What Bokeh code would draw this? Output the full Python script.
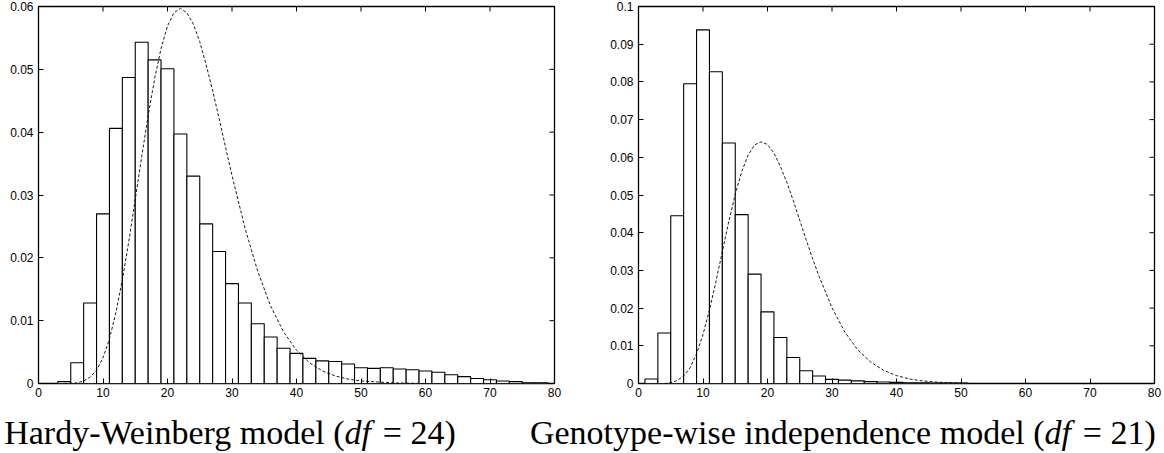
import math
from bokeh.plotting import figure
from bokeh.layouts import row, column
from bokeh.models import Range1d, LinearAxis, FixedTicker, ColumnDataSource
from bokeh.core.properties import value
from bokeh.embed import file_html
from bokeh.resources import INLINE

# ---------------- data ----------------
hw_centers = [4, 6, 8, 10, 12, 14, 16, 18, 20, 22, 24, 26, 28, 30, 32, 34, 36, 38,
              40, 42, 44, 46, 48, 50, 52, 54, 56, 58, 60, 62, 64, 66, 68, 70, 72, 74, 76, 78]
hw_freq = [0.0003, 0.0033, 0.0128, 0.0270, 0.0406, 0.0487, 0.0543, 0.0515, 0.0501, 0.0397,
           0.0330, 0.0254, 0.0210, 0.0159, 0.0128, 0.0095, 0.0074, 0.0056, 0.0048, 0.0040,
           0.0036, 0.0035, 0.0031, 0.0025, 0.0024, 0.0025, 0.0023, 0.0022, 0.0020, 0.0018,
           0.0014, 0.0011, 0.0008, 0.0006, 0.0004, 0.0003, 0.0001, 0.0001]
hw_curve_x = [4, 6, 7, 8, 9, 10, 11, 12, 13, 14, 15, 16, 17, 18, 19, 20, 21, 22, 23, 24, 25,
              26, 27, 28, 29, 30, 32, 34, 36, 38, 40, 42, 44, 46, 48, 50, 55, 60]
hw_curve_y = [0.0000, 0.0001, 0.0004, 0.0010, 0.0021, 0.0041, 0.0071, 0.0113, 0.0165, 0.0226,
              0.0293, 0.0361, 0.0426, 0.0485, 0.0533, 0.0569, 0.0590, 0.0597, 0.0590, 0.0572,
              0.0544, 0.0507, 0.0466, 0.0422, 0.0376, 0.0331, 0.0248, 0.0178, 0.0123, 0.0082,
              0.0053, 0.0033, 0.0020, 0.0012, 0.0007, 0.0004, 0.0001, 0.0000]

gi_centers = [2, 4, 6, 8, 10, 12, 14, 16, 18, 20, 22, 24, 26, 28, 30, 32, 34, 36, 38, 40,
              42, 44, 46, 48, 50]
gi_freq = [0.0012, 0.0134, 0.0445, 0.0795, 0.0938, 0.0827, 0.0638, 0.0448, 0.0290, 0.0190,
           0.0122, 0.0069, 0.0034, 0.0020, 0.0011, 0.0009, 0.0007, 0.0005, 0.0004, 0.0003,
           0.0002, 0.0002, 0.0001, 0.0001, 0.0001]
gi_curve_x = [4, 5, 6, 7, 8, 9, 10, 11, 12, 13, 14, 15, 16, 17, 18, 19, 20, 21, 22, 23, 24,
              25, 26, 27, 28, 30, 32, 34, 36, 38, 40, 42, 44, 46, 48, 50, 52]
gi_curve_y = [0.0000, 0.0002, 0.0008, 0.0020, 0.0042, 0.0079, 0.0130, 0.0195, 0.0270, 0.0350,
              0.0430, 0.0502, 0.0562, 0.0606, 0.0633, 0.0641, 0.0634, 0.0611, 0.0576, 0.0533,
              0.0485, 0.0433, 0.0381, 0.0331, 0.0284, 0.0201, 0.0136, 0.0089, 0.0057, 0.0035,
              0.0021, 0.0012, 0.0007, 0.0004, 0.0002, 0.0001, 0.0000]

x_ticks = [0, 10, 20, 30, 40, 50, 60, 70, 80]
hw_yticks = [0, 0.01, 0.02, 0.03, 0.04, 0.05, 0.06]
hw_ylabels = ["0", "0.01", "0.02", "0.03", "0.04", "0.05", "0.06"]
gi_yticks = [0, 0.01, 0.02, 0.03, 0.04, 0.05, 0.06, 0.07, 0.08, 0.09, 0.1]
gi_ylabels = ["0", "0.01", "0.02", "0.03", "0.04", "0.05", "0.06", "0.07", "0.08", "0.09", "0.1"]

cap_left = ["Hardy-Weinberg model (", "df", "= 24)"]
cap_right = ["Genotype-wise independence model (", "df", "= 21)"]

TICK_FONT = "Liberation Sans"
CAP_FONT = "Liberation Serif"


def make_panel(centers, freq, cx, cy, yticks, ylabels, ymax, left_border, right_border):
    p = figure(width=left_border + 516 + right_border, height=6 + 377 + 30,
               x_range=Range1d(0, 80),
               y_range=Range1d(0, ymax), output_backend="svg", toolbar_location=None,
               min_border_left=left_border, min_border_right=right_border,
               min_border_top=6, min_border_bottom=30, x_axis_location=None,
               y_axis_location=None)
    p.grid.visible = False
    p.outline_line_color = "black"
    p.outline_line_width = 1.3
    p.background_fill_color = "white"
    p.border_fill_color = "white"

    src = ColumnDataSource(dict(x=centers, top=freq))
    p.vbar(x="x", top="top", bottom=0, width=2, source=src, fill_color="white",
           line_color="black", line_width=1.1)
    p.line(cx, cy, line_color="black", line_width=0.9, line_dash="3 2")

    # mirrored inward ticks on the top and right sides
    p.ray(x=x_ticks, y=[ymax] * len(x_ticks), length=5, length_units="screen",
          angle=-math.pi / 2, line_color="black", line_width=1)
    p.ray(x=[80] * len(yticks), y=yticks, length=5, length_units="screen",
          angle=math.pi, line_color="black", line_width=1)

    xa = LinearAxis(ticker=FixedTicker(ticks=x_ticks), axis_line_color=None,
                    major_tick_in=5, major_tick_out=0, minor_tick_line_color=None,
                    major_tick_line_color="black", major_tick_line_width=1,
                    major_label_text_font=TICK_FONT, major_label_text_font_size="12px",
                    major_label_standoff=4, major_label_text_color="black")
    p.add_layout(xa, "below")
    ya = LinearAxis(ticker=FixedTicker(ticks=yticks), axis_line_color=None,
                    major_tick_in=5, major_tick_out=0, minor_tick_line_color=None,
                    major_tick_line_color="black", major_tick_line_width=1,
                    major_label_text_font=TICK_FONT, major_label_text_font_size="12px",
                    major_label_standoff=5, major_label_text_color="black",
                    major_label_overrides={t: l for t, l in zip(yticks, ylabels)})
    p.add_layout(ya, "left")
    return p


p1 = make_panel(hw_centers, hw_freq, hw_curve_x, hw_curve_y, hw_yticks, hw_ylabels, 0.06, 38, 30)
p2 = make_panel(gi_centers, gi_freq, gi_curve_x, gi_curve_y, gi_yticks, gi_ylabels, 0.1, 54, 8)

# caption strip (pixel-like coordinates, y measured from the top)
cap = figure(width=1164, height=40, x_range=Range1d(0, 1164), y_range=Range1d(40, 0),
             output_backend="svg", toolbar_location=None, min_border=0,
             x_axis_location=None, y_axis_location=None)
cap.grid.visible = False
cap.outline_line_color = None
fs = 34
df_w = 0.778 * fs
sp_w = 0.35 * fs
for parts, anchor in ((cap_left, 344), (cap_right, 1044)):
    common = dict(y=[19], text_font=value(CAP_FONT), text_font_size=f"{fs}px",
                  text_baseline="alphabetic", text_color="black")
    cap.text(x=[anchor], text=[parts[0]], text_align="right", **common)
    cap.text(x=[anchor], text=[parts[1]], text_align="left", text_font_style="italic", **common)
    cap.text(x=[anchor + df_w + sp_w], text=[parts[2]], text_align="left", **common)

layout = column(row(p1, p2), cap)

open("out.html", "w").write(file_html(layout, INLINE))
